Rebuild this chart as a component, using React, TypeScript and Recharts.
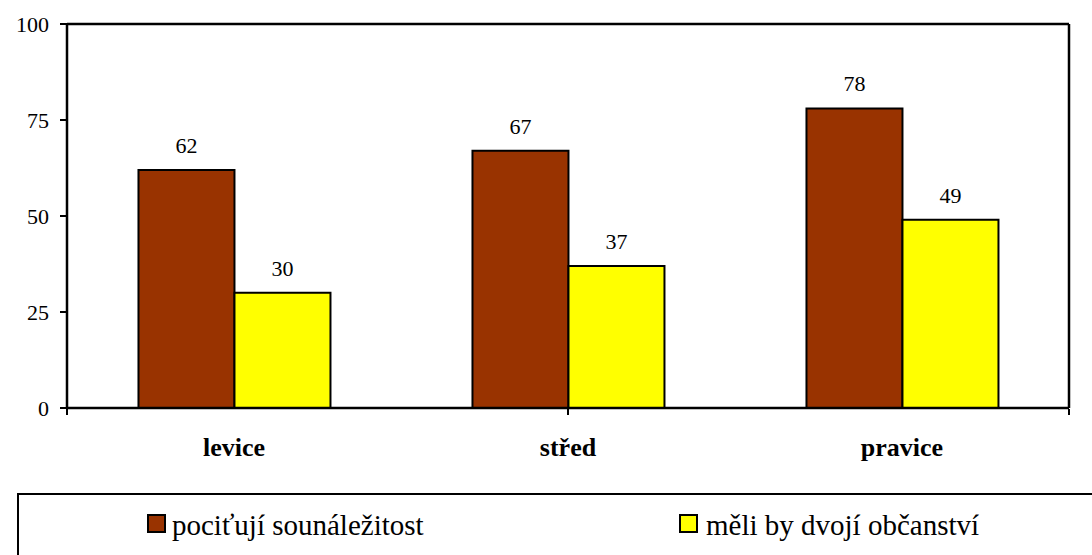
import React from 'react';
import { BarChart, Bar, XAxis, YAxis, LabelList, ReferenceLine } from 'recharts';

const categories = ['levice', 'střed', 'pravice'];
const belonging = [62, 67, 78];
const dualCitizenship = [30, 37, 49];
const yTicks = [0, 25, 50, 75, 100];
const boundaryTicks = [0, 1, 2, 3];
const seriesNames = ['pociťují sounáležitost', 'měli by dvojí občanství'];
const seriesColors = ['#993300', '#FFFF00'];

const data = categories.map((cat, i) => ({
  cat,
  a: belonging[i],
  b: dualCitizenship[i],
}));

const FONT = '"Liberation Serif", "Times New Roman", serif';

export default function App() {
  return (
    <div style={{ position: 'relative', width: 1092, height: 555, overflow: 'hidden', background: '#fff', fontFamily: FONT }}>
      <style>{'body{margin:0;}'}</style>
      <BarChart
        width={1092}
        height={555}
        data={data}
        margin={{ top: 24, right: 22, bottom: 87, left: 0 }}
        barCategoryGap="21.4%"
        barGap={0}
      >
        <XAxis
          dataKey="cat"
          height={1}
          axisLine={{ stroke: '#000', strokeWidth: 2.5 }}
          tickLine={false}
          tickSize={0}
          tickMargin={30}
          interval={0}
          tick={{ fill: '#000', fontSize: 26, fontWeight: 'bold', fontFamily: FONT }}
        />
        <XAxis
          xAxisId="bound"
          type="number"
          domain={[0, 3]}
          ticks={boundaryTicks}
          allowDataOverflow
          interval={0}
          height={59}
          tick={{ fontSize: 1, fill: 'none' }}
          tickFormatter={() => ''}
          tickSize={6}
          tickLine={{ stroke: '#000', strokeWidth: 2 }}
          axisLine={false}
        />
        <YAxis
          width={67}
          domain={[0, 100]}
          ticks={yTicks}
          interval={0}
          tickSize={7}
          tickMargin={11}
          tickLine={{ stroke: '#000', strokeWidth: 2 }}
          axisLine={{ stroke: '#000', strokeWidth: 2.5 }}
          tick={{ fill: '#000', fontSize: 22, fontFamily: FONT }}
        />
        <YAxis
          yAxisId="right"
          orientation="right"
          width={1}
          domain={[0, 100]}
          tick={false}
          tickLine={false}
          axisLine={{ stroke: '#000', strokeWidth: 2.5 }}
        />
        <ReferenceLine y={100} stroke="#000" strokeWidth={2.5} ifOverflow="visible" />
        <Bar dataKey="a" name={seriesNames[0]} fill={seriesColors[0]} stroke="#000" strokeWidth={2} isAnimationActive={false}>
          <LabelList dataKey="a" position="top" offset={17} fill="#000" fontSize={22} fontFamily={FONT} />
        </Bar>
        <Bar dataKey="b" name={seriesNames[1]} fill={seriesColors[1]} stroke="#000" strokeWidth={2} isAnimationActive={false}>
          <LabelList dataKey="b" position="top" offset={17} fill="#000" fontSize={22} fontFamily={FONT} />
        </Bar>
      </BarChart>
      <div
        style={{
          position: 'absolute',
          left: 17,
          top: 493,
          width: 1120,
          height: 120,
          border: '2px solid #000',
          boxSizing: 'border-box',
        }}
      />
      {[
        { sx: 147, tx: 172 },
        { sx: 679, tx: 706 },
      ].map((p, i) => (
        <React.Fragment key={i}>
          <div
            style={{
              position: 'absolute',
              left: p.sx,
              top: 514,
              width: 19,
              height: 19,
              background: seriesColors[i],
              border: '2px solid #000',
              boxSizing: 'border-box',
            }}
          />
          <div
            style={{
              position: 'absolute',
              left: p.tx,
              top: 511,
              fontSize: 29,
              lineHeight: '29px',
              whiteSpace: 'nowrap',
              color: '#000',
              fontFamily: FONT,
            }}
          >
            {seriesNames[i]}
          </div>
        </React.Fragment>
      ))}
    </div>
  );
}
